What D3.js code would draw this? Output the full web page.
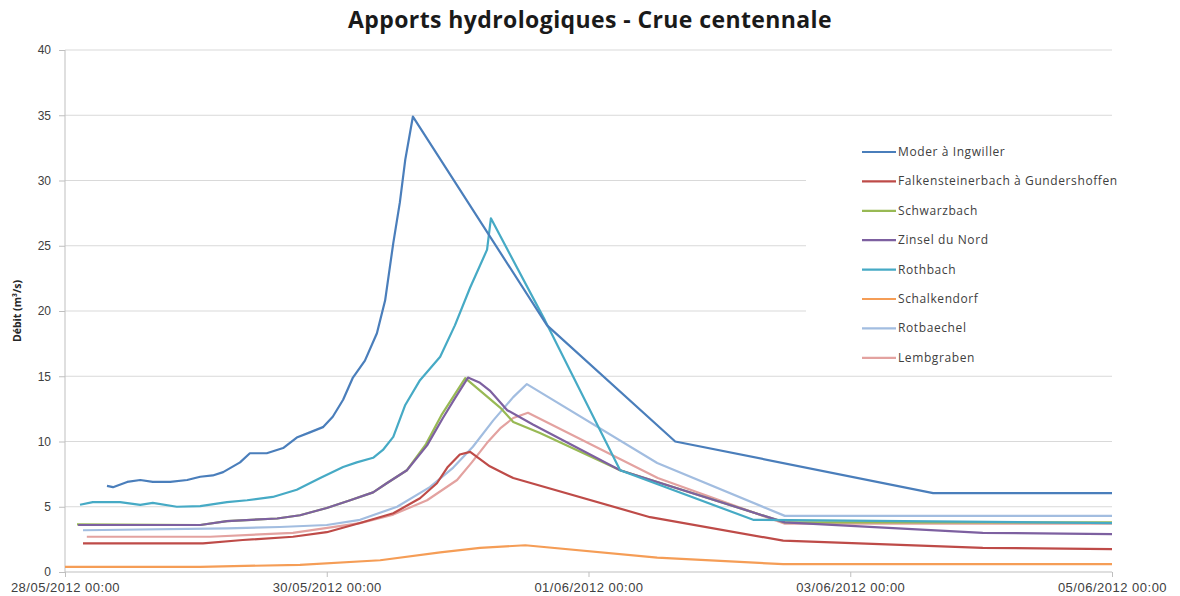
<!DOCTYPE html>
<html>
<head>
<meta charset="utf-8">
<script src="https://cdn.jsdelivr.net/npm/d3@7"></script>
<style>
  body { margin: 0; background: #fff; }
  svg { font-family: "Open Sans", "Liberation Sans", sans-serif; }
  .grid line { stroke: #d9d9d9; stroke-width: 1.2; }
  .axis path, .axis line { stroke: #bfbfbf; }
  .axis text { fill: #404040; }
  .serie { fill: none; stroke-width: 2.2; stroke-linejoin: round; }
</style>
</head>
<body>
<svg width="1180" height="596"></svg>
<script>
// hours after 28/05/2012 00:00, debit (m3/s)
var moder = [[7.7,6.6],[8.8,6.5],[11.4,6.9],[13.8,7.05],[16.1,6.9],[19.3,6.9],[22.4,7.05],[24.8,7.3],[27.1,7.4],[29.0,7.65],
  [32.1,8.4],[33.9,9.1],[37.0,9.1],[40.0,9.5],[42.5,10.3],[44.9,10.7],[47.3,11.1],[49.1,11.9],[51.0,13.2],[52.8,14.9],
  [55.0,16.2],[57.2,18.3],[58.7,20.8],[60.2,25.2],[61.4,28.3],[62.4,31.6],[63.8,34.9],[88.4,18.9],[111.9,10.0],[159.2,6.05],[192,6.05]];
var falkensteinerbach = [[3.3,2.2],[25.3,2.2],[32.6,2.45],[41.8,2.7],[48.0,3.05],[54.1,3.75],[60.2,4.5],[65.1,5.65],[68.2,6.8],
  [70.1,8.0],[72.4,9.0],[74.3,9.2],[77.9,8.1],[82.2,7.2],[107.3,4.2],[131.7,2.4],[168.3,1.85],[192,1.76]];
var schwarzbach = [[2.2,3.65],[24.8,3.6],[29.7,3.9],[38.9,4.1],[43.1,4.35],[48.0,4.9],[52.3,5.5],[56.5,6.1],[59.0,6.8],[62.7,7.8],
  [66.2,9.8],[69.0,12.0],[71.3,13.5],[73.4,14.85],[79.8,12.6],[82.2,11.5],[87.1,10.65],[101.8,7.8],[132.0,3.8],[192,3.8]];
var zinsel = [[2.4,3.6],[24.8,3.6],[29.7,3.9],[38.9,4.1],[43.1,4.35],[48.0,4.9],[52.3,5.5],[56.5,6.1],[59.0,6.8],[62.7,7.8],
  [66.4,9.7],[69.3,11.8],[71.5,13.3],[73.9,14.9],[76.1,14.5],[77.9,13.9],[81.1,12.4],[85.8,11.3],[101.8,7.8],[132.0,3.8],[168.3,3.0],[192,2.9]];
var rothbach = [[2.75,5.15],[5.1,5.35],[10.1,5.35],[13.8,5.15],[16.1,5.3],[20.5,5.0],[24.8,5.05],[29.7,5.35],[33.4,5.5],[38.1,5.75],
  [42.5,6.3],[46.8,7.2],[51.0,8.05],[53.5,8.4],[56.5,8.75],[58.3,9.35],[60.2,10.35],[62.4,12.8],[65.1,14.7],[68.8,16.5],[71.5,18.9],
  [74.3,21.8],[77.4,24.7],[78.1,27.1],[88.0,19.3],[101.8,7.8],[126.2,4.0],[192,3.75]];
var schalkendorf = [[0,0.4],[24.8,0.4],[43.1,0.55],[57.8,0.9],[68.8,1.5],[76.1,1.85],[84.4,2.05],[108.6,1.1],[131.7,0.6],[192,0.6]];
var rotbaechel = [[3.3,3.2],[29.7,3.35],[39.4,3.45],[48.0,3.6],[54.1,4.0],[60.9,5.0],[66.9,6.5],[71.2,8.0],[74.8,9.6],[78.5,11.6],
  [82.2,13.4],[84.7,14.4],[108.6,8.35],[132.0,4.3],[192,4.3]];
var lembgraben = [[4.0,2.7],[26.6,2.7],[41.8,3.0],[54.1,3.75],[60.2,4.4],[66.4,5.5],[71.9,7.05],[74.6,8.4],[77.4,9.9],[79.8,11.0],
  [82.2,11.8],[84.9,12.2],[108.7,7.2],[132.0,3.7],[192,3.7]];

var names = ["Moder à Ingwiller", "Falkensteinerbach à Gundershoffen", "Schwarzbach", "Zinsel du Nord",
  "Rothbach", "Schalkendorf", "Rotbaechel", "Lembgraben"];
var colors = ["#4a7ebb", "#be4b48", "#98b954", "#7d60a0", "#46aac5", "#f59d56", "#a2bde0", "#e3a2a0"];
var seriesData = [moder, falkensteinerbach, schwarzbach, zinsel, rothbach, schalkendorf, rotbaechel, lembgraben];
// drawing order (back to front)
var drawOrder = [5, 7, 6, 1, 2, 3, 4, 0];

var yTicks = [0, 5, 10, 15, 20, 25, 30, 35, 40];
var xTickDates = ["2012-05-28", "2012-05-30", "2012-06-01", "2012-06-03", "2012-06-05"];

var svg = d3.select("svg"),
    plotLeft = 65, plotRight = 1112, plotTop = 50, plotBottom = 572;

var start = new Date(2012, 4, 28, 0, 0);
var parseDay = d3.timeParse("%Y-%m-%d");
var fmt = d3.timeFormat("%d/%m/%Y %H:%M");

var x = d3.scaleTime().domain([start, new Date(2012, 5, 5, 0, 0)]).range([plotLeft, plotRight]);
var y = d3.scaleLinear().domain([0, 40]).range([plotBottom, plotTop]);

function toDate(h) { return new Date(start.getTime() + h * 3600 * 1000); }

// title
svg.append("text")
    .attr("x", 590).attr("y", 28)
    .attr("text-anchor", "middle")
    .style("font-size", "23px").style("font-weight", "bold").style("fill", "#1a1a1a")
    .style("letter-spacing", "0.4px")
    .text("Apports hydrologiques - Crue centennale");

// grid
svg.append("g").attr("class", "grid")
    .selectAll("line").data(yTicks.filter(function (d) { return d > 0; }))
    .enter().append("line")
    .attr("x1", plotLeft).attr("x2", plotRight)
    .attr("y1", function (d) { return y(d); })
    .attr("y2", function (d) { return y(d); });

// y axis
var yAxis = svg.append("g").attr("class", "axis")
    .attr("transform", "translate(" + plotLeft + ",0)")
    .call(d3.axisLeft(y).tickValues(yTicks).tickSize(6).tickPadding(8));
yAxis.select(".domain").attr("d", "M0," + plotTop + "V" + plotBottom);
yAxis.selectAll("text").style("font-size", "12px");

svg.append("text")
    .attr("transform", "translate(21," + ((plotTop + plotBottom) / 2) + ") rotate(-90)")
    .attr("text-anchor", "middle")
    .style("font-size", "10.5px").style("font-weight", "bold").style("fill", "#262626")
    .text("Débit (m³/s)");

// x axis
var xAxis = svg.append("g").attr("class", "axis")
    .attr("transform", "translate(0," + plotBottom + ")")
    .call(d3.axisBottom(x).tickValues(xTickDates.map(parseDay)).tickFormat(fmt).tickSize(5).tickPadding(6));
xAxis.select(".domain").attr("d", "M" + plotLeft + ",0H" + plotRight);
xAxis.selectAll("text").style("font-size", "13px").style("letter-spacing", "0.5px");

// lines
var line = d3.line()
    .x(function (d) { return x(toDate(d[0])); })
    .y(function (d) { return y(d[1]); });

svg.append("g").selectAll("path")
    .data(drawOrder)
    .enter().append("path")
    .attr("class", "serie")
    .attr("stroke", function (i) { return colors[i]; })
    .attr("d", function (i) { return line(seriesData[i]); });

// legend
var legend = svg.append("g");
legend.append("rect")
    .attr("x", 806).attr("y", 128).attr("width", 316).attr("height", 244)
    .attr("fill", "#fff");

var item = legend.selectAll(".item").data(names)
    .enter().append("g")
    .attr("transform", function (d, i) { return "translate(862," + (152 + i * 29.4) + ")"; });
item.append("line")
    .attr("x1", 0).attr("x2", 34)
    .attr("stroke", function (d, i) { return colors[i]; })
    .attr("stroke-width", 2.2);
item.append("text")
    .attr("x", 36).attr("y", 4)
    .style("font-size", "12px").style("fill", "#404040").style("letter-spacing", "0.6px")
    .text(function (d) { return d; });
</script>
</body>
</html>
